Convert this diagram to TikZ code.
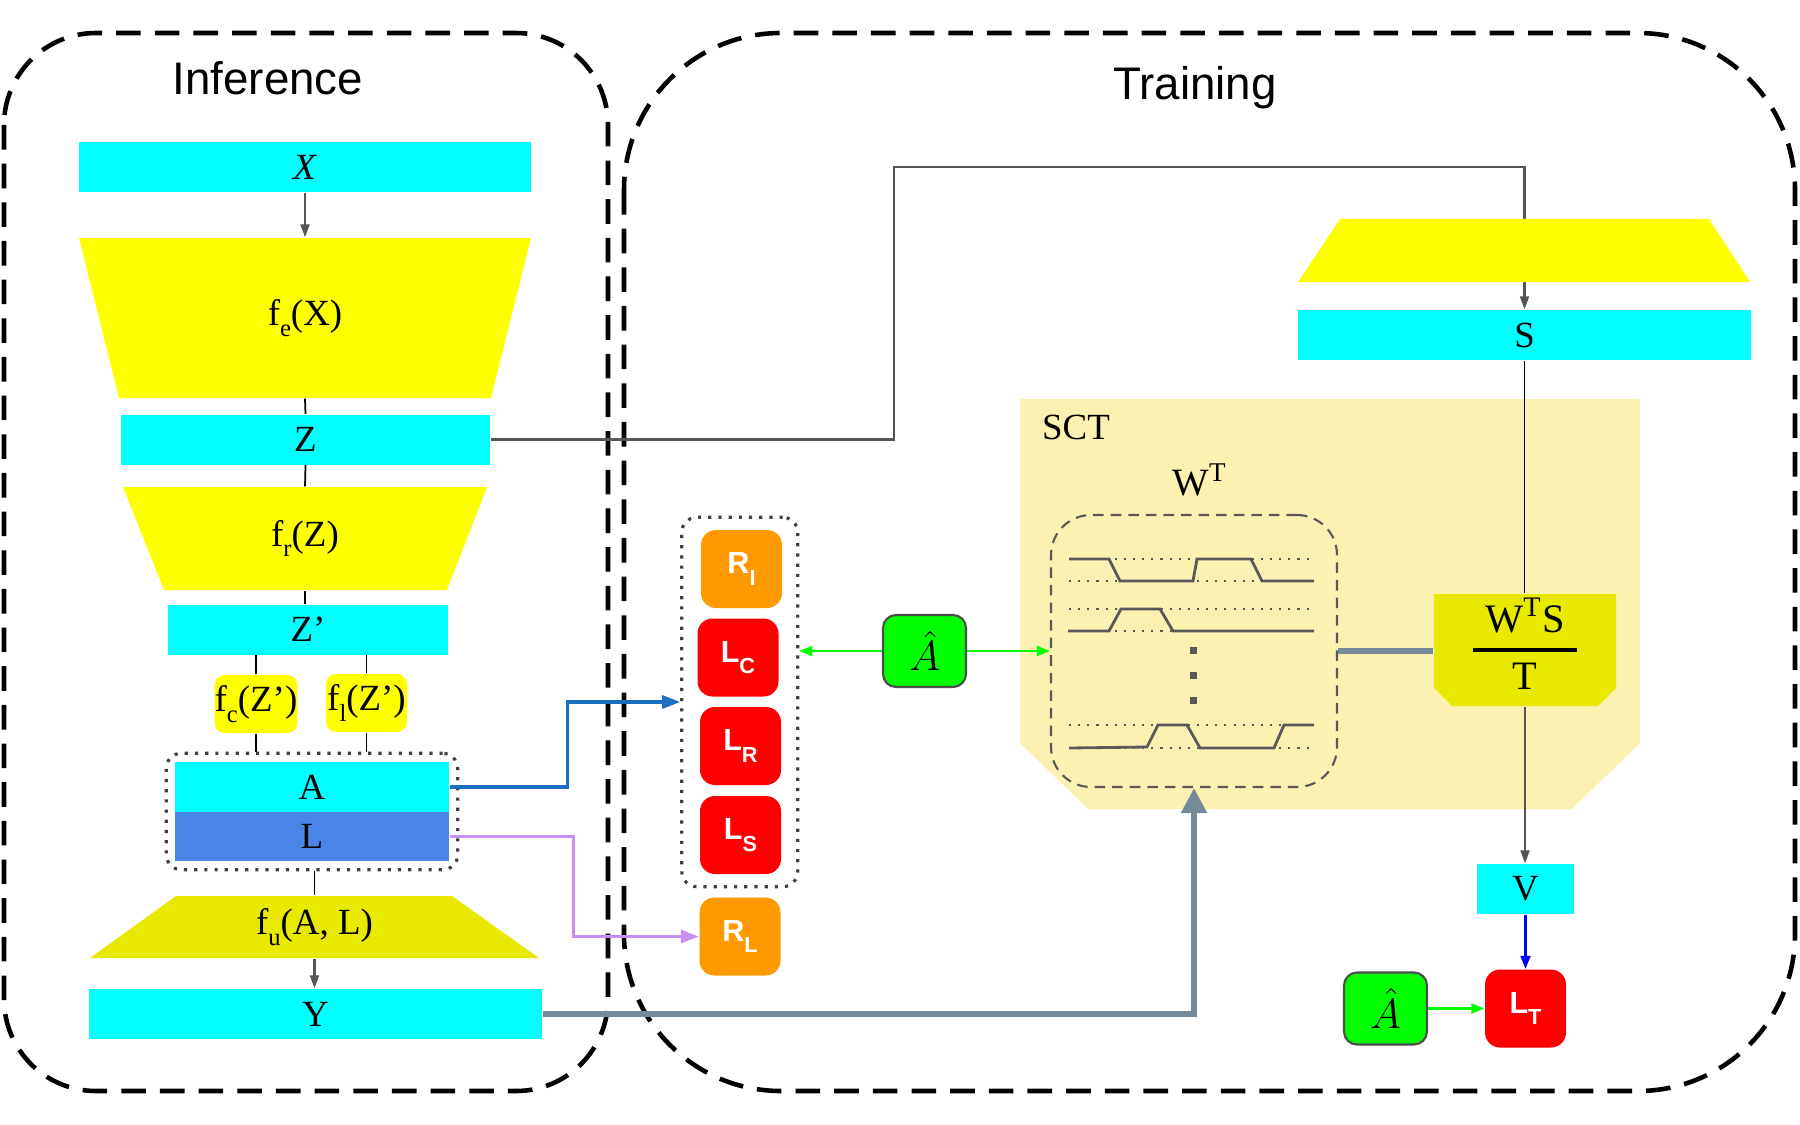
\documentclass[tikz,border=0pt]{standalone}
\usepackage{amsmath}
\usepackage{fontspec}
\setmainfont{Liberation Serif}
\setsansfont{Liberation Sans}
\usetikzlibrary{arrows.meta,fit}

\definecolor{fcyan}{HTML}{00FFFF}
\definecolor{fyellow}{HTML}{FFFF00}
\definecolor{dyellow}{HTML}{E9E900}
\definecolor{lblue}{HTML}{4A86E8}
\definecolor{lorange}{HTML}{FF9900}
\definecolor{lred}{HTML}{FF0000}
\definecolor{hgreen}{HTML}{00FF00}
\definecolor{sctbg}{HTML}{FBF1B1}
\definecolor{linkgray}{HTML}{555555}
\definecolor{thickgray}{HTML}{778A99}
\definecolor{ablue}{HTML}{1A6FBF}
\definecolor{lpurple}{HTML}{C890F5}

\newcommand{\lbl}{\fontsize{10.5}{12}\selectfont}
\newcommand{\headfont}{\sffamily\fontsize{13}{15}\selectfont}
\newcommand{\lossfont}{\sffamily\bfseries\fontsize{8.7}{10}\selectfont}
\newcommand{\lossname}[2]{#1\raisebox{-3.2pt}{\fontsize{6.2}{7}\selectfont #2}}
\newcommand{\fsub}[1]{\raisebox{-3pt}{\fontsize{7}{8}\selectfont #1}}

\begin{document}
\begin{tikzpicture}[
    x=0.1mm, y=-0.1mm,
    all/.style={inner sep=0pt, font=\lbl},
    feat/.style={all, rectangle, fill=fcyan, minimum height=5mm},
    enc/.style={all, rectangle},
    head/.style={all, rectangle, fill=fyellow, rounded corners=1mm, minimum height=5.8mm},
    loss/.style={all, rectangle, rounded corners=1.5mm, fill=lred, text=white,
        font=\lossfont, minimum width=8.1mm, minimum height=7.8mm},
    reg/.style={loss, fill=lorange},
    hat/.style={all, rectangle, rounded corners=1.3mm, fill=hgreen, draw=black!70,
        line width=0.6pt, font=\fontsize{12}{14}\selectfont,
        minimum width=8.3mm, minimum height=7.2mm},
    grp/.style={draw=black!75, dotted, line width=0.9pt, rounded corners=1.5mm},
    region/.style={draw=black, dash pattern=on 7pt off 4pt, line width=1.3pt},
    plain/.style={draw=black, line width=0.5pt},
    conn/.style={draw=linkgray, line width=0.6pt},
    connarr/.style={conn, -{Triangle[length=1.3mm, width=0.9mm]}},
    garr/.style={draw=hgreen, line width=0.6pt, -{Triangle[length=1.3mm, width=1mm]}},
    barr/.style={draw=ablue, line width=0.9pt, -{Triangle[length=1.8mm, width=1.3mm]}},
    parr/.style={draw=lpurple, line width=0.8pt, -{Triangle[length=1.8mm, width=1.3mm]}},
    tgray/.style={draw=thickgray, line width=1.5pt},
    wave/.style={draw=black!65, line width=0.8pt},
    wavedot/.style={draw=black!65, dotted, line width=0.6pt},
]
    \useasboundingbox (0,0) rectangle (1800,1125);

    % the two regions
    \draw[region, rounded corners=9.2mm] (4,33) rectangle (608,1091);
    \draw[region, rounded corners=15.7mm] (624,33) rectangle (1795,1091);
    \node (inf) [anchor=base, font=\headfont] at (268,95) {Inference};
    \node (train) [anchor=base, font=\headfont] at (1195,100) {Training};

    % inference
    \node (X) [feat, minimum width=45.2mm] at (305,167) {\textit{X}};
    \fill[fyellow] (79,238) -- (531,238) -- (491,398) -- (119,398) -- cycle;
    \node (fe) [enc, minimum width=45.2mm, minimum height=16mm] at (305,318)
        {f\fsub{e}(X)};
    \node (Z) [feat, minimum width=36.9mm] at (305.5,439.5) {Z};
    \fill[fyellow] (123,487) -- (487,487) -- (447,590) -- (164,590) -- cycle;
    \node (fr) [enc, minimum width=36.4mm, minimum height=10.3mm] at (305,538.5)
        {f\fsub{r}(Z)};
    \node (Zp) [feat, minimum width=28mm] at (308,629.5) {Z’};
    \node (fc) [head, minimum width=8.2mm] at (256,704) {f\fsub{c}(Z’)};
    \node (fl) [head, minimum width=8.1mm] at (366.5,703) {f\fsub{l}(Z’)};
    \node (A) [feat, minimum width=27.4mm] at (312,787) {A};
    \node (L) [feat, fill=lblue, minimum width=27.4mm, minimum height=4.9mm]
        at (312,836.5) {L};
    \node (AL) [grp, fit=(A) (L), inner sep=0.8mm] {};
    \fill[dyellow] (176,896) -- (452,896) -- (539,958) -- (90,958) -- cycle;
    \node (fu) [enc, minimum width=44.9mm, minimum height=6.2mm] at (314.5,927)
        {f\fsub{u}(A, L)};
    \node (Y) [feat, minimum width=45.3mm] at (315.5,1014) {Y};

    \draw[connarr] (X.south) -- (fe.north);
    \draw[plain] (fe.south) -- (Z.north);
    \draw[plain] (Z.south) -- (fr.north);
    \draw[plain] (fr.south) -- (fr.south |- Zp.north);
    \draw[plain] (fc.north) -- (fc.north |- Zp.south);
    \draw[plain] (fl.north) -- (fl.north |- Zp.south);
    \draw[plain] (fc.south) -- (fc.south |- AL.north);
    \draw[plain] (fl.south) -- (fl.south |- AL.north);
    \draw[plain] (fu.north |- AL.south) -- (fu.north);
    \draw[connarr] (fu.south) -- (fu.south |- Y.north);

    % training
    \fill[sctbg] (1020,399) -- (1640,399) -- (1640,743) -- (1572,809)
        -- (1088,809) -- (1020,743) -- cycle;
    \node (sct) [all, anchor=base] at (1076,439) {SCT};
    \node (wt) [all, anchor=base, font=\fontsize{11}{13}\selectfont]
        at (1200,495) {W\textsuperscript{T}};

    \node (S) [feat, minimum width=45.3mm] at (1524.5,335) {S};
    \coordinate (zbend) at (894,167);
    \draw[connarr] (Z.east) -| (zbend) -| (S.north);
    \fill[fyellow] (1340,219) -- (1709,219) -- (1750,282) -- (1298,282) -- cycle;
    \node (ftop) [enc, minimum width=45.2mm, minimum height=6.3mm] at (1524,250.5) {};

    \node (RI) [reg] at (741.5,569) {\lossname{R}{I}};
    \node (LC) [loss] at (738,657.5) {\lossname{L}{C}};
    \node (LR) [loss] at (740.5,746) {\lossname{L}{R}};
    \node (LS) [loss] at (740.5,835) {\lossname{L}{S}};
    \node (losses) [grp, fit=(RI) (LC) (LR) (LS), inner xsep=1.5mm, inner ysep=1.2mm] {};
    \node (RL) [reg] at (740,936.5) {\lossname{R}{L}};
    \node (ah1) [hat] at (924.5,651) {$\hat{A}$};

    \node (W) [draw=black!65, dash pattern=on 3pt off 2pt, line width=0.6pt,
        rounded corners=4mm, minimum width=28.6mm, minimum height=27.2mm]
        at (1194,651) {};
    \foreach \yy in {559,581,609,631,725,748}
        \draw[wavedot] (1069,\yy) -- (1314,\yy);
    \draw[wave] (1069,559) -- (1109,559) -- (1120,581) -- (1193,581) -- (1197,559)
        -- (1251,559) -- (1262,581) -- (1314,581);
    \draw[wave] (1068,631) -- (1109,631) -- (1121,609) -- (1160,609) -- (1173,631)
        -- (1314,631);
    \draw[wave] (1069,748) -- (1147,747) -- (1158,725) -- (1187,725) -- (1200,748)
        -- (1274,748) -- (1284,725) -- (1314,725);
    \foreach \yy in {650,675,700}
        \fill[black!65] (1190,\yy-3) rectangle ++(7,7);

    \fill[dyellow] (1434,594) -- (1616,594) -- (1616,688) -- (1598,706)
        -- (1452,706) -- (1434,688) -- cycle;
    \node (wts) [all, minimum width=18.2mm, minimum height=11.2mm] at (1525,650) {};
    \node (wtsfrac) [all, font=\fontsize{11.5}{13}\selectfont] at (1525,644)
        {$\genfrac{}{}{1pt}{0}{\;\text{W}^{\text{T}}\text{S}\;}{\text{T}}$};
    \node (V) [feat, minimum width=9.7mm] at (1525.5,889) {V};
    \node (LT) [loss] at (1525.5,1008.5) {\lossname{L}{T}};
    \node (ah2) [hat] at (1385.5,1008.5) {$\hat{A}$};

    % connectors
    \draw[barr] (A.east) -- ++(118,0) |- (losses.west);
    \draw[parr] (L.east) -- ++(124,0) |- (RL.west);
    \draw[garr] (ah1.west) -- (ah1.west -| losses.east);
    \draw[garr] (ah1.east) -- (ah1.east -| W.west);
    \draw[tgray, -{Triangle[length=2.5mm, width=2.5mm]}] (Y.east) -| (W.south);
    \draw[tgray] (W.east) -- (W.east -| wts.west);
    \draw[plain] (S.south) -- (S.south |- wts.north);
    \draw[connarr] (wts.south) -- (wts.south |- V.north);
    \draw[draw=blue, line width=0.6pt, -{Triangle[length=1.3mm, width=1mm]}]
        (V.south) -- (V.south |- LT.north);
    \draw[garr] (ah2.east) -- (ah2.east -| LT.west);
\end{tikzpicture}
\end{document}
